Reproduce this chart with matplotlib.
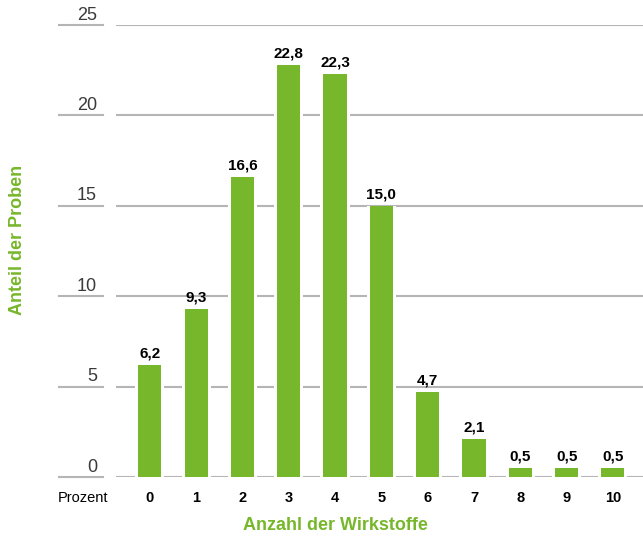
import numpy as np
import matplotlib.pyplot as plt
from matplotlib.transforms import blended_transform_factory

# Anteil der Proben (Prozent) nach Anzahl der Wirkstoffe
wirkstoffe = ['0', '1', '2', '3', '4', '5', '6', '7', '8', '9', '10']
anteil = [6.2, 9.3, 16.6, 22.8, 22.3, 15.0, 4.7, 2.1, 0.5, 0.5, 0.5]
yticks = [0, 5, 10, 15, 20, 25]

gruen = '#77b72b'
grau = '#b5b5b5'

plt.rcParams['font.family'] = ['Liberation Sans', 'DejaVu Sans']

fig = plt.figure(figsize=(6.43, 5.38), dpi=100)
ax = fig.add_axes([116 / 643, 61 / 538, 527 / 643, 452 / 538])
x = np.arange(len(wirkstoffe))
ax.set_xlim(-0.73, 10.65)
ax.set_ylim(0, 25)

# Rasterlinien, links davon kurze Linien unter den Skalenwerten
trans = blended_transform_factory(ax.transAxes, ax.transData)
for t in yticks:
    ax.axhline(t, color=grau, lw=1.5, zorder=1)
    ax.plot([-0.108, -0.025], [t, t], transform=trans, color=grau,
            lw=1.5, clip_on=False, zorder=1)
    ax.text(-0.036, t + 0.3, str(t), transform=trans, ha='right', va='baseline',
            fontsize=13, color='#3a3a3a')

# weiße Aussparung um die Balken, dann die Balken selbst
ax.bar(x, anteil, width=0.63, color='white', zorder=2, clip_on=False)
ax.bar(x, anteil, width=0.5, color=gruen, zorder=3, clip_on=False)

for xi, v in zip(x, anteil):
    ax.text(xi, v + 0.25, f'{v:.1f}'.replace('.', ','), ha='center', va='bottom',
            fontsize=11, fontweight='bold', color='black')

for xi, lab in zip(x, wirkstoffe):
    ax.text(xi, -0.8, lab, ha='center', va='top', fontsize=10.5,
            fontweight='bold', color='black')
ax.text(-0.015, -0.8, 'Prozent', transform=trans, ha='right', va='top',
        fontsize=10.5, color='black')

for s in ax.spines.values():
    s.set_visible(False)
ax.set_xticks([])
ax.set_yticks([])

fig.text(335 / 643, 1 - 525 / 538, 'Anzahl der Wirkstoffe', ha='center', va='center',
         fontsize=13, fontweight='bold', color=gruen)
fig.text(18 / 643, 1 - 240 / 538, 'Anteil der Proben', ha='center', va='center',
         rotation=90, fontsize=13, fontweight='bold', color=gruen)

fig.savefig('out.png', dpi=100)
